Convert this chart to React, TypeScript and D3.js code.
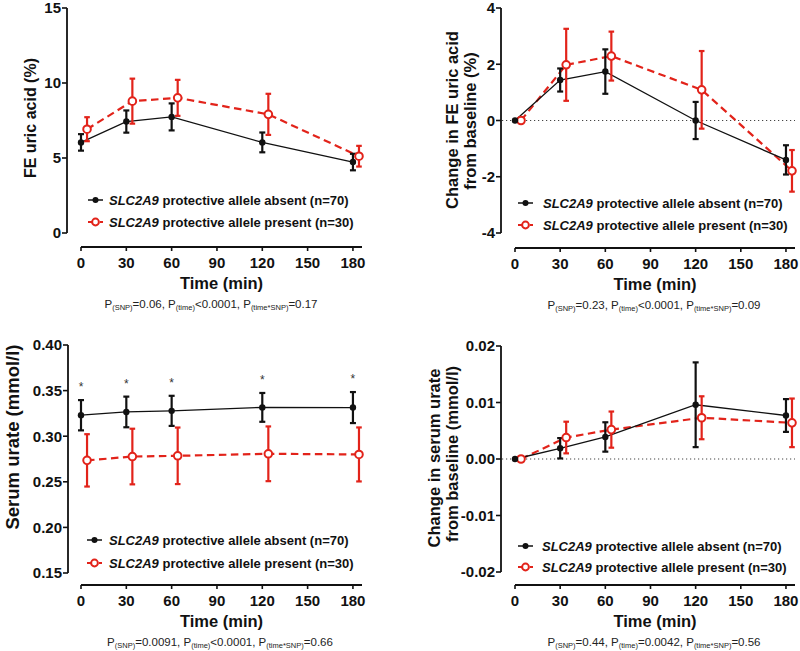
import React from "react";
import * as d3 from "d3";

const times = [0, 30, 60, 120, 180];

const feAbsent = [6.04, 7.43, 7.74, 6.04, 4.73];
const feAbsentErr = [0.55, 0.74, 0.9, 0.66, 0.55];
const fePresent = [6.92, 8.79, 9.01, 7.91, 5.12];
const fePresentErr = [0.8, 1.5, 1.2, 1.37, 0.69];

const dFeAbsent = [0, 1.44, 1.74, 0, -1.4];
const dFeAbsentErr = [0, 0.41, 0.79, 0.66, 0.52];
const dFePresent = [0, 1.98, 2.29, 1.09, -1.79];
const dFePresentErr = [0, 1.28, 0.87, 1.38, 0.74];

const suAbsent = [0.323, 0.3266, 0.3278, 0.3316, 0.3314];
const suAbsentErr = [0.0166, 0.0168, 0.0165, 0.0158, 0.017];
const suPresent = [0.2735, 0.2777, 0.2785, 0.2807, 0.28];
const suPresentErr = [0.0287, 0.0305, 0.031, 0.03, 0.0296];

const dSuAbsent = [0, 0.0019, 0.0039, 0.0096, 0.0077];
const dSuAbsentErr = [0, 0.0018, 0.0026, 0.0075, 0.0029];
const dSuPresent = [0, 0.0038, 0.0052, 0.0073, 0.0064];
const dSuPresentErr = [0, 0.0028, 0.0032, 0.0038, 0.0043];

const xTicks = [0, 30, 60, 90, 120, 150, 180];
const feTicks = [0, 5, 10, 15];
const dFeTicks = [-4, -2, 0, 2, 4];
const suTicks = [0.15, 0.2, 0.25, 0.3, 0.35, 0.4];
const dSuTicks = [-0.02, -0.01, 0, 0.01, 0.02];

const legendAbsent = " protective allele absent (n=70)";
const legendPresent = " protective allele present (n=30)";
const gene = "SLC2A9";

const RED = "#e2231a";
const FONT = "'Liberation Sans', Arial, Helvetica, sans-serif";
const PRESENT_OFFSET = 4;

type PVal = { sub: string; rel: string; val: string };

const pFe: PVal[] = [
  { sub: "(SNP)", rel: "=", val: "0.06" },
  { sub: "(time)", rel: "<", val: "0.0001" },
  { sub: "(time*SNP)", rel: "=", val: "0.17" },
];
const pDFe: PVal[] = [
  { sub: "(SNP)", rel: "=", val: "0.23" },
  { sub: "(time)", rel: "<", val: "0.0001" },
  { sub: "(time*SNP)", rel: "=", val: "0.09" },
];
const pSu: PVal[] = [
  { sub: "(SNP)", rel: "=", val: "0.0091" },
  { sub: "(time)", rel: "<", val: "0.0001" },
  { sub: "(time*SNP)", rel: "=", val: "0.66" },
];
const pDSu: PVal[] = [
  { sub: "(SNP)", rel: "=", val: "0.44" },
  { sub: "(time)", rel: "=", val: "0.0042" },
  { sub: "(time*SNP)", rel: "=", val: "0.56" },
];

type PanelCfg = {
  yAxisX: number;
  yTop: number;
  yBottom: number;
  xLeft: number;
  xRight: number;
  xAxisY: number;
  domain: [number, number];
  ticks: number[];
  fmt: (v: number) => string;
  absent: number[];
  absentErr: number[];
  present: number[];
  presentErr: number[];
  zeroLine: boolean;
  stars: boolean;
  labels: { text: string; x: number; y: number; size: number }[];
  legendY: [number, number];
  legendX: number;
  legendTextX: number;
  pCenter: number;
  pvals: PVal[];
};

const fmtInt = (v: number) => String(v);
const fmt2 = (v: number) => d3.format(".2f")(v).replace("\u2212", "-");

const panels: PanelCfg[] = [
  {
    yAxisX: 67, yTop: 8, yBottom: 233, xLeft: 81, xRight: 362, xAxisY: 247,
    domain: [0, 15], ticks: feTicks, fmt: fmtInt,
    absent: feAbsent, absentErr: feAbsentErr, present: fePresent, presentErr: fePresentErr,
    zeroLine: false, stars: false,
    labels: [{ text: "FE uric acid (%)", x: 36, y: 118, size: 16 }],
    legendY: [200, 222], legendX: 88, legendTextX: 109, pCenter: 211, pvals: pFe,
  },
  {
    yAxisX: 501, yTop: 8, yBottom: 233, xLeft: 515, xRight: 795, xAxisY: 248,
    domain: [-4, 4], ticks: dFeTicks, fmt: fmtInt,
    absent: dFeAbsent, absentErr: dFeAbsentErr, present: dFePresent, presentErr: dFePresentErr,
    zeroLine: true, stars: false,
    labels: [
      { text: "Change in FE uric acid", x: 458, y: 120, size: 16.5 },
      { text: "from baseline (%)", x: 476, y: 121, size: 16.5 },
    ],
    legendY: [203, 225], legendX: 518, legendTextX: 543, pCenter: 654, pvals: pDFe,
  },
  {
    yAxisX: 68, yTop: 345, yBottom: 573, xLeft: 81, xRight: 362, xAxisY: 585,
    domain: [0.15, 0.4], ticks: suTicks, fmt: fmt2,
    absent: suAbsent, absentErr: suAbsentErr, present: suPresent, presentErr: suPresentErr,
    zeroLine: false, stars: true,
    labels: [{ text: "Serum urate (mmol/l)", x: 18.5, y: 437, size: 18.5 }],
    legendY: [540, 563], legendX: 87, legendTextX: 109, pCenter: 220, pvals: pSu,
  },
  {
    yAxisX: 501, yTop: 346, yBottom: 572, xLeft: 515, xRight: 795, xAxisY: 585,
    domain: [-0.02, 0.02], ticks: dSuTicks, fmt: fmt2,
    absent: dSuAbsent, absentErr: dSuAbsentErr, present: dSuPresent, presentErr: dSuPresentErr,
    zeroLine: true, stars: false,
    labels: [
      { text: "Change in serum urate", x: 440, y: 458, size: 16.5 },
      { text: "from baseline (mmol/l)", x: 458, y: 454, size: 16.5 },
    ],
    legendY: [546, 567], legendX: 518, legendTextX: 542, pCenter: 654, pvals: pDSu,
  },
];

function Panel({ cfg }: { cfg: PanelCfg }) {
  const x = d3.scaleLinear().domain([0, 186]).range([cfg.xLeft, cfg.xRight]);
  const y = d3.scaleLinear().domain(cfg.domain).range([cfg.yBottom, cfg.yTop]);
  const line = d3
    .line<[number, number]>()
    .x((d) => x(d[0]))
    .y((d) => y(d[1]));
  const absPts: [number, number][] = times.map((t, i) => [t, cfg.absent[i]]);
  const prePts: [number, number][] = times.map((t, i) => [t + PRESENT_OFFSET, cfg.present[i]]);

  const errBar = (t: number, m: number, e: number, color: string, key: string, cap: number) => {
    if (e <= 0) return null;
    const cx = x(t);
    const y1 = y(m + e);
    const y2 = y(m - e);
    return (
      <g key={key} stroke={color} strokeWidth={2.2} fill="none">
        <line x1={cx} x2={cx} y1={y1} y2={y2} />
        <line x1={cx - cap} x2={cx + cap} y1={y1} y2={y1} />
        <line x1={cx - cap} x2={cx + cap} y1={y2} y2={y2} />
      </g>
    );
  };

  const [ly1, ly2] = cfg.legendY;
  const lx1 = cfg.legendX;
  const lx2 = cfg.legendX + 15;

  return (
    <g fontFamily={FONT}>
      {/* y axis */}
      <line x1={cfg.yAxisX} x2={cfg.yAxisX} y1={y(cfg.domain[1])} y2={y(cfg.domain[0])} stroke="#111" strokeWidth={1.8} />
      {cfg.ticks.map((t) => (
        <g key={"yt" + t}>
          <line x1={cfg.yAxisX - 5} x2={cfg.yAxisX} y1={y(t)} y2={y(t)} stroke="#111" strokeWidth={1.6} />
          <text x={cfg.yAxisX - 6} y={y(t)} dy="0.36em" textAnchor="end" fontSize={15} fontWeight="bold" fill="#111">
            {cfg.fmt(t)}
          </text>
        </g>
      ))}
      {/* x axis */}
      <line x1={x(0)} x2={x(186)} y1={cfg.xAxisY} y2={cfg.xAxisY} stroke="#111" strokeWidth={1.8} />
      {xTicks.map((t) => (
        <g key={"xt" + t}>
          <line x1={x(t)} x2={x(t)} y1={cfg.xAxisY} y2={cfg.xAxisY + 4} stroke="#111" strokeWidth={1.6} />
          <text x={x(t)} y={cfg.xAxisY + 20.5} textAnchor="middle" fontSize={15} fontWeight="bold" fill="#111">
            {t}
          </text>
        </g>
      ))}
      <text x={(x(0) + x(186)) / 2} y={cfg.xAxisY + 42} textAnchor="middle" fontSize={16.5} fontWeight="bold" fill="#111">
        Time (min)
      </text>
      <text x={cfg.pCenter} y={cfg.xAxisY + 61} textAnchor="middle" fontSize={11.5} fill="#222">
        {cfg.pvals.map((p, i) => (
          <React.Fragment key={i}>
            <tspan>{(i > 0 ? ", " : "") + "P"}</tspan>
            <tspan fontSize={7.5} dy={2}>{p.sub}</tspan>
            <tspan dy={-2}>{p.rel + p.val}</tspan>
          </React.Fragment>
        ))}
      </text>
      {/* y labels */}
      {cfg.labels.map((l, i) => (
        <text key={"yl" + i} transform={`translate(${l.x},${l.y}) rotate(-90)`} textAnchor="middle" fontSize={l.size} fontWeight="bold" fill="#111">
          {l.text}
        </text>
      ))}
      {cfg.zeroLine && (
        <line x1={cfg.yAxisX + 1} x2={x(186)} y1={y(0)} y2={y(0)} stroke="#444" strokeWidth={1.2} strokeDasharray="1.2,2.8" />
      )}
      {/* series lines */}
      <path d={line(prePts) || ""} fill="none" stroke={RED} strokeWidth={2.2} strokeDasharray="7.5,4.5" />
      <path d={line(absPts) || ""} fill="none" stroke="#111" strokeWidth={1.3} />
      {times.map((t, i) => errBar(t + PRESENT_OFFSET, cfg.present[i], cfg.presentErr[i], RED, "pe" + i, 2.8))}
      {times.map((t, i) => errBar(t, cfg.absent[i], cfg.absentErr[i], "#111", "ae" + i, 3))}
      {prePts.map((p, i) => (
        <circle key={"pc" + i} cx={x(p[0])} cy={y(p[1])} r={3.8} fill="#fff" stroke={RED} strokeWidth={2} />
      ))}
      {absPts.map((p, i) => (
        <circle key={"ac" + i} cx={x(p[0])} cy={y(p[1])} r={3.2} fill="#111" />
      ))}
      {cfg.stars &&
        times.map((t, i) => (
          <text key={"st" + i} x={x(t)} y={y(cfg.absent[i] + cfg.absentErr[i]) - 9} textAnchor="middle" fontSize={12} fill="#333">
            *
          </text>
        ))}
      {/* legend */}
      <line x1={lx1} x2={lx2} y1={ly1} y2={ly1} stroke="#111" strokeWidth={1.5} />
      <circle cx={(lx1 + lx2) / 2} cy={ly1} r={3} fill="#111" />
      <text x={cfg.legendTextX} y={ly1} dy="0.36em" fontSize={13} fontWeight="bold" fill="#111">
        <tspan fontStyle="italic">{gene}</tspan>
        <tspan>{legendAbsent}</tspan>
      </text>
      <line x1={lx1} x2={lx2} y1={ly2} y2={ly2} stroke={RED} strokeWidth={2} strokeDasharray="4,2" />
      <circle cx={(lx1 + lx2) / 2} cy={ly2} r={3.4} fill="#fff" stroke={RED} strokeWidth={2} />
      <text x={cfg.legendTextX} y={ly2} dy="0.36em" fontSize={13} fontWeight="bold" fill="#111">
        <tspan fontStyle="italic">{gene}</tspan>
        <tspan>{legendPresent}</tspan>
      </text>
    </g>
  );
}

export default function App() {
  return (
    <svg
      width={800}
      height={651}
      viewBox="0 0 800 651"
      style={{ position: "absolute", left: 0, top: 0, background: "#fff" }}
    >
      <rect width={800} height={651} fill="#fff" />
      {panels.map((p, i) => (
        <Panel key={i} cfg={p} />
      ))}
    </svg>
  );
}
